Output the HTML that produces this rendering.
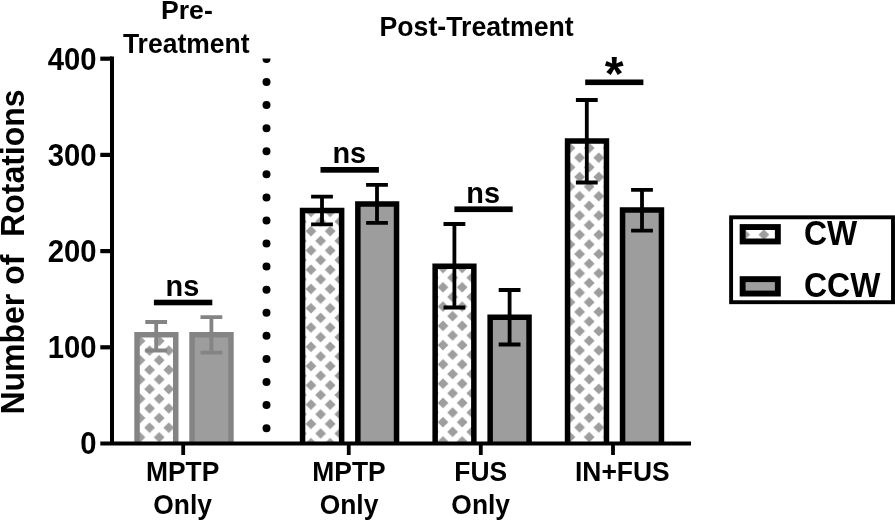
<!DOCTYPE html>
<html lang="en"><head><meta charset="utf-8"><title>Number of Rotations</title>
<style>
html,body{margin:0;padding:0;background:#fff;}
body{width:895px;height:520px;overflow:hidden;}
svg{display:block;}
svg text{font-family:"Liberation Sans",Arial,Helvetica,sans-serif;font-weight:700;fill:#000;}
</style></head>
<body>
<svg width="895" height="520" viewBox="0 0 895 520">
<defs>
<pattern id="p1" patternUnits="userSpaceOnUse" x="140.00" y="340.97" width="19.2" height="19.27"><rect width="19.2" height="19.27" fill="#fff"/><path d="M-15.00 -9.63L-9.60 -15.04L-4.20 -9.63L-9.60 -4.23ZM-15.00 9.63L-9.60 4.23L-4.20 9.63L-9.60 15.04ZM-15.00 28.91L-9.60 23.51L-4.20 28.91L-9.60 34.30ZM4.20 -9.63L9.60 -15.04L15.00 -9.63L9.60 -4.23ZM4.20 9.63L9.60 4.23L15.00 9.63L9.60 15.04ZM4.20 28.91L9.60 23.51L15.00 28.91L9.60 34.30ZM23.40 -9.63L28.80 -15.04L34.20 -9.63L28.80 -4.23ZM23.40 9.63L28.80 4.23L34.20 9.63L28.80 15.04ZM23.40 28.91L28.80 23.51L34.20 28.91L28.80 34.30ZM-5.40 0.00L0.00 -5.40L5.40 0.00L0.00 5.40ZM-5.40 19.27L0.00 13.87L5.40 19.27L0.00 24.67ZM13.80 0.00L19.20 -5.40L24.60 0.00L19.20 5.40ZM13.80 19.27L19.20 13.87L24.60 19.27L19.20 24.67Z" fill="#9e9e9e"/></pattern>
<pattern id="p2" patternUnits="userSpaceOnUse" x="301.40" y="221.56" width="19.2" height="19.27"><rect width="19.2" height="19.27" fill="#fff"/><path d="M-15.00 -9.63L-9.60 -15.04L-4.20 -9.63L-9.60 -4.23ZM-15.00 9.63L-9.60 4.23L-4.20 9.63L-9.60 15.04ZM-15.00 28.91L-9.60 23.51L-4.20 28.91L-9.60 34.30ZM4.20 -9.63L9.60 -15.04L15.00 -9.63L9.60 -4.23ZM4.20 9.63L9.60 4.23L15.00 9.63L9.60 15.04ZM4.20 28.91L9.60 23.51L15.00 28.91L9.60 34.30ZM23.40 -9.63L28.80 -15.04L34.20 -9.63L28.80 -4.23ZM23.40 9.63L28.80 4.23L34.20 9.63L28.80 15.04ZM23.40 28.91L28.80 23.51L34.20 28.91L28.80 34.30ZM-5.40 0.00L0.00 -5.40L5.40 0.00L0.00 5.40ZM-5.40 19.27L0.00 13.87L5.40 19.27L0.00 24.67ZM13.80 0.00L19.20 -5.40L24.60 0.00L19.20 5.40ZM13.80 19.27L19.20 13.87L24.60 19.27L19.20 24.67Z" fill="#9e9e9e"/></pattern>
<pattern id="p3" patternUnits="userSpaceOnUse" x="433.40" y="277.67" width="19.2" height="19.27"><rect width="19.2" height="19.27" fill="#fff"/><path d="M-15.00 -9.63L-9.60 -15.04L-4.20 -9.63L-9.60 -4.23ZM-15.00 9.63L-9.60 4.23L-4.20 9.63L-9.60 15.04ZM-15.00 28.91L-9.60 23.51L-4.20 28.91L-9.60 34.30ZM4.20 -9.63L9.60 -15.04L15.00 -9.63L9.60 -4.23ZM4.20 9.63L9.60 4.23L15.00 9.63L9.60 15.04ZM4.20 28.91L9.60 23.51L15.00 28.91L9.60 34.30ZM23.40 -9.63L28.80 -15.04L34.20 -9.63L28.80 -4.23ZM23.40 9.63L28.80 4.23L34.20 9.63L28.80 15.04ZM23.40 28.91L28.80 23.51L34.20 28.91L28.80 34.30ZM-5.40 0.00L0.00 -5.40L5.40 0.00L0.00 5.40ZM-5.40 19.27L0.00 13.87L5.40 19.27L0.00 24.67ZM13.80 0.00L19.20 -5.40L24.60 0.00L19.20 5.40ZM13.80 19.27L19.20 13.87L24.60 19.27L19.20 24.67Z" fill="#9e9e9e"/></pattern>
<pattern id="p4" patternUnits="userSpaceOnUse" x="570.00" y="148.06" width="19.2" height="19.27"><rect width="19.2" height="19.27" fill="#fff"/><path d="M-15.00 -9.63L-9.60 -15.04L-4.20 -9.63L-9.60 -4.23ZM-15.00 9.63L-9.60 4.23L-4.20 9.63L-9.60 15.04ZM-15.00 28.91L-9.60 23.51L-4.20 28.91L-9.60 34.30ZM4.20 -9.63L9.60 -15.04L15.00 -9.63L9.60 -4.23ZM4.20 9.63L9.60 4.23L15.00 9.63L9.60 15.04ZM4.20 28.91L9.60 23.51L15.00 28.91L9.60 34.30ZM23.40 -9.63L28.80 -15.04L34.20 -9.63L28.80 -4.23ZM23.40 9.63L28.80 4.23L34.20 9.63L28.80 15.04ZM23.40 28.91L28.80 23.51L34.20 28.91L28.80 34.30ZM-5.40 0.00L0.00 -5.40L5.40 0.00L0.00 5.40ZM-5.40 19.27L0.00 13.87L5.40 19.27L0.00 24.67ZM13.80 0.00L19.20 -5.40L24.60 0.00L19.20 5.40ZM13.80 19.27L19.20 13.87L24.60 19.27L19.20 24.67Z" fill="#9e9e9e"/></pattern>
<pattern id="pl" patternUnits="userSpaceOnUse" x="754.30" y="225.06" width="19.2" height="19.27"><rect width="19.2" height="19.27" fill="#fff"/><path d="M-15.00 -9.63L-9.60 -15.04L-4.20 -9.63L-9.60 -4.23ZM-15.00 9.63L-9.60 4.23L-4.20 9.63L-9.60 15.04ZM-15.00 28.91L-9.60 23.51L-4.20 28.91L-9.60 34.30ZM4.20 -9.63L9.60 -15.04L15.00 -9.63L9.60 -4.23ZM4.20 9.63L9.60 4.23L15.00 9.63L9.60 15.04ZM4.20 28.91L9.60 23.51L15.00 28.91L9.60 34.30ZM23.40 -9.63L28.80 -15.04L34.20 -9.63L28.80 -4.23ZM23.40 9.63L28.80 4.23L34.20 9.63L28.80 15.04ZM23.40 28.91L28.80 23.51L34.20 28.91L28.80 34.30ZM-5.40 0.00L0.00 -5.40L5.40 0.00L0.00 5.40ZM-5.40 19.27L0.00 13.87L5.40 19.27L0.00 24.67ZM13.80 0.00L19.20 -5.40L24.60 0.00L19.20 5.40ZM13.80 19.27L19.20 13.87L24.60 19.27L19.20 24.67Z" fill="#9e9e9e"/></pattern>
<clipPath id="clipplot"><rect x="100" y="58.5" width="600" height="400"/></clipPath>
</defs>
<rect width="895" height="520" fill="#fff"/>
<rect x="137.05" y="334.75" width="38.70" height="108.75" fill="url(#p1)"/>
<path d="M137.05 443.50V334.75H175.75V443.50" fill="none" stroke="#848484" stroke-width="5.5"/>
<rect x="192.05" y="334.75" width="38.90" height="108.75" fill="#9d9d9d"/>
<path d="M192.05 443.50V334.75H230.95V443.50" fill="none" stroke="#848484" stroke-width="5.5"/>
<rect x="302.55" y="210.55" width="39.10" height="232.95" fill="url(#p2)"/>
<path d="M302.55 443.50V210.55H341.65V443.50" fill="none" stroke="#000" stroke-width="5.5"/>
<rect x="357.85" y="204.05" width="38.70" height="239.45" fill="#9d9d9d"/>
<path d="M357.85 443.50V204.05H396.55V443.50" fill="none" stroke="#000" stroke-width="5.5"/>
<rect x="435.15" y="266.15" width="38.70" height="177.35" fill="url(#p3)"/>
<path d="M435.15 443.50V266.15H473.85V443.50" fill="none" stroke="#000" stroke-width="5.5"/>
<rect x="490.15" y="317.15" width="38.90" height="126.35" fill="#9d9d9d"/>
<path d="M490.15 443.50V317.15H529.05V443.50" fill="none" stroke="#000" stroke-width="5.5"/>
<rect x="567.55" y="141.05" width="38.90" height="302.45" fill="url(#p4)"/>
<path d="M567.55 443.50V141.05H606.45V443.50" fill="none" stroke="#000" stroke-width="5.5"/>
<rect x="622.55" y="209.95" width="38.90" height="233.55" fill="#9d9d9d"/>
<path d="M622.55 443.50V209.95H661.45V443.50" fill="none" stroke="#000" stroke-width="5.5"/>
<path d="M145.30 322.00H167.10M145.30 350.50H167.10M156.20 322.00V350.50" fill="none" stroke="#848484" stroke-width="3.8"/>
<path d="M200.50 317.20H222.30M200.50 352.60H222.30M211.40 317.20V352.60" fill="none" stroke="#848484" stroke-width="3.8"/>
<path d="M311.10 196.70H332.90M311.10 224.40H332.90M322.00 196.70V224.40" fill="none" stroke="#000" stroke-width="3.8"/>
<path d="M366.10 184.90H387.90M366.10 222.80H387.90M377.00 184.90V222.80" fill="none" stroke="#000" stroke-width="3.8"/>
<path d="M443.50 224.00H465.30M443.50 307.50H465.30M454.40 224.00V307.50" fill="none" stroke="#000" stroke-width="3.8"/>
<path d="M498.70 290.00H520.50M498.70 344.50H520.50M509.60 290.00V344.50" fill="none" stroke="#000" stroke-width="3.8"/>
<path d="M575.90 100.00H597.70M575.90 182.50H597.70M586.80 100.00V182.50" fill="none" stroke="#000" stroke-width="3.8"/>
<path d="M631.10 189.80H652.90M631.10 230.60H652.90M642.00 189.80V230.60" fill="none" stroke="#000" stroke-width="3.8"/>
<rect x="153.90" y="299.70" width="58.40" height="5.60" fill="#000"/>
<text transform="translate(182.40 295.70) scale(1.0 1.015)" font-size="28.9" text-anchor="middle">ns</text>
<rect x="320.50" y="167.00" width="58.40" height="5.70" fill="#000"/>
<text transform="translate(349.30 163.40) scale(1.0 1.015)" font-size="28.9" text-anchor="middle">ns</text>
<rect x="454.40" y="206.40" width="58.30" height="5.70" fill="#000"/>
<text transform="translate(483.20 202.60) scale(1.0 1.015)" font-size="28.9" text-anchor="middle">ns</text>
<rect x="585.20" y="79.50" width="58.20" height="5.60" fill="#000"/>
<text x="614.30" y="90.30" font-size="48.5" text-anchor="middle">*</text>
<g clip-path="url(#clipplot)"><path d="M266.5 58.9V445" stroke="#000" stroke-width="8" stroke-linecap="round" stroke-dasharray="0 23.08" fill="none"/></g>
<path d="M112 56.6V443.5" stroke="#000" stroke-width="4" fill="none"/>
<path d="M100.3 443.5H691" stroke="#000" stroke-width="3.9" fill="none"/>
<text transform="translate(96.60 454.30) scale(1.0 1.085)" font-size="29.3" text-anchor="end">0</text>
<path d="M100.3 347.30H112" stroke="#000" stroke-width="4.2" fill="none"/>
<text transform="translate(96.60 358.10) scale(1.0 1.085)" font-size="29.3" text-anchor="end">100</text>
<path d="M100.3 251.10H112" stroke="#000" stroke-width="4.2" fill="none"/>
<text transform="translate(96.60 261.90) scale(1.0 1.085)" font-size="29.3" text-anchor="end">200</text>
<path d="M100.3 154.90H112" stroke="#000" stroke-width="4.2" fill="none"/>
<text transform="translate(96.60 165.70) scale(1.0 1.085)" font-size="29.3" text-anchor="end">300</text>
<path d="M100.3 58.70H112" stroke="#000" stroke-width="4.2" fill="none"/>
<text transform="translate(96.60 69.50) scale(1.0 1.085)" font-size="29.3" text-anchor="end">400</text>
<path d="M183.2 443.5V455" stroke="#000" stroke-width="3.8" fill="none"/>
<path d="M348.75 443.5V455" stroke="#000" stroke-width="3.8" fill="none"/>
<path d="M480.8 443.5V455" stroke="#000" stroke-width="3.8" fill="none"/>
<path d="M613.0 443.5V455" stroke="#000" stroke-width="3.8" fill="none"/>
<text transform="translate(182.60 480.70) scale(1.0 1.04)" font-size="26.4" text-anchor="middle">MPTP</text>
<text transform="translate(182.60 513.90) scale(1.0 1.04)" font-size="26.4" text-anchor="middle">Only</text>
<text transform="translate(349.00 480.70) scale(1.0 1.04)" font-size="26.4" text-anchor="middle">MPTP</text>
<text transform="translate(349.00 513.90) scale(1.0 1.04)" font-size="26.4" text-anchor="middle">Only</text>
<text transform="translate(480.70 480.70) scale(1.0 1.04)" font-size="26.4" text-anchor="middle">FUS</text>
<text transform="translate(480.70 513.90) scale(1.0 1.04)" font-size="26.4" text-anchor="middle">Only</text>
<text transform="translate(622.30 480.70) scale(1.0 1.04)" font-size="26.4" text-anchor="middle">IN+FUS</text>
<text transform="translate(186.90 19.20) scale(1.0 0.985)" font-size="26.6" text-anchor="middle">Pre-</text>
<text transform="translate(186.20 52.50) scale(1.0 1.06)" font-size="26.5" text-anchor="middle">Treatment</text>
<text transform="translate(476.60 35.80) scale(1.0 1.045)" font-size="26.7" text-anchor="middle">Post-Treatment</text>
<text transform="translate(23.6 252) rotate(-90) scale(1 1.03)" font-size="32" text-anchor="middle" xml:space="preserve">Number of  Rotations</text>
<rect x="731.1" y="217.3" width="161.9" height="84.9" stroke="#000" stroke-width="3.9" fill="none"/>
<rect x="742.6500000000001" y="227.04999999999998" width="35.2" height="14.4" fill="url(#pl)" stroke="#000" stroke-width="5.9"/>
<rect x="742.6500000000001" y="279.15" width="35.2" height="14.4" fill="#9d9d9d" stroke="#000" stroke-width="5.9"/>
<text transform="translate(804.00 245.10) scale(1.0 1.085)" font-size="32">CW</text>
<text transform="translate(804.00 296.90) scale(1.0 1.085)" font-size="32">CCW</text>
</svg>
</body></html>
